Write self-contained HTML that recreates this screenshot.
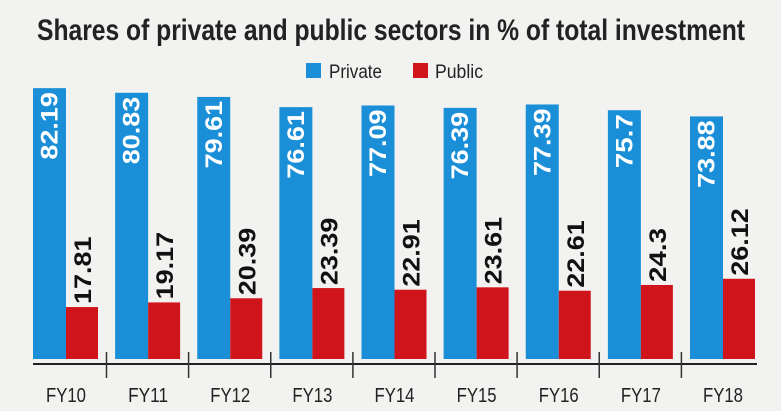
<!DOCTYPE html>
<html><head><meta charset="utf-8"><style>
html,body{margin:0;padding:0;background:#f2f2f0;}
svg{display:block;font-family:"Liberation Sans",sans-serif;}
.bt{font-size:24px;fill:#fff;font-weight:bold;}
.rt{font-size:24px;font-weight:bold;fill:#111;}
.fy{font-size:20px;fill:#222;}
</style></head><body>
<svg width="781" height="411" viewBox="0 0 781 411" xmlns="http://www.w3.org/2000/svg">
<rect width="781" height="411" fill="#f2f2f0"/>
<text x="37" y="40" font-size="30" font-weight="bold" fill="#222" textLength="708" lengthAdjust="spacingAndGlyphs">Shares of private and public sectors in % of total investment</text>
<rect x="306" y="63" width="15" height="15" fill="#1a8fd8"/>
<text x="329" y="78" font-size="19" fill="#222" textLength="53" lengthAdjust="spacingAndGlyphs">Private</text>
<rect x="413" y="63" width="15" height="15" fill="#d0141c"/>
<text x="435" y="78" font-size="19" fill="#222" textLength="48" lengthAdjust="spacingAndGlyphs">Public</text>

<g fill="#1a8fd8">
<rect x="33" y="88.15" width="33" height="270.85"/>
<rect x="115.125" y="92.78" width="33" height="266.22"/>
<rect x="197.25" y="96.93" width="33" height="262.07"/>
<rect x="279.375" y="107.13" width="33" height="251.87"/>
<rect x="361.5" y="105.49" width="33" height="253.51"/>
<rect x="443.625" y="107.87" width="33" height="251.13"/>
<rect x="525.75" y="104.47" width="33" height="254.53"/>
<rect x="607.875" y="110.22" width="33" height="248.78"/>
<rect x="690" y="116.41" width="33" height="242.59"/>
</g>
<g fill="#d0141c">
<rect x="66" y="307.05" width="32" height="51.95"/>
<rect x="148.125" y="302.42" width="32" height="56.58"/>
<rect x="230.25" y="298.27" width="32" height="60.73"/>
<rect x="312.375" y="288.07" width="32" height="70.93"/>
<rect x="394.5" y="289.71" width="32" height="69.29"/>
<rect x="476.625" y="287.33" width="32" height="71.67"/>
<rect x="558.75" y="290.73" width="32" height="68.27"/>
<rect x="640.875" y="284.98" width="32" height="74.02"/>
<rect x="723" y="278.79" width="32" height="80.21"/>
</g>

<text class="bt" transform="translate(57.5,92.15) rotate(-90)" text-anchor="end" textLength="67.5" lengthAdjust="spacingAndGlyphs">82.19</text>
<text class="bt" transform="translate(139.6,96.78) rotate(-90)" text-anchor="end" textLength="67.5" lengthAdjust="spacingAndGlyphs">80.83</text>
<text class="bt" transform="translate(221.75,100.93) rotate(-90)" text-anchor="end" textLength="67.5" lengthAdjust="spacingAndGlyphs">79.61</text>
<text class="bt" transform="translate(303.9,111.13) rotate(-90)" text-anchor="end" textLength="67.5" lengthAdjust="spacingAndGlyphs">76.61</text>
<text class="bt" transform="translate(386,109.49) rotate(-90)" text-anchor="end" textLength="67.5" lengthAdjust="spacingAndGlyphs">77.09</text>
<text class="bt" transform="translate(468.1,111.87) rotate(-90)" text-anchor="end" textLength="67.5" lengthAdjust="spacingAndGlyphs">76.39</text>
<text class="bt" transform="translate(550.25,108.47) rotate(-90)" text-anchor="end" textLength="67.5" lengthAdjust="spacingAndGlyphs">77.39</text>
<text class="bt" transform="translate(632.4,114.22) rotate(-90)" text-anchor="end" textLength="54" lengthAdjust="spacingAndGlyphs">75.7</text>
<text class="bt" transform="translate(714.5,120.41) rotate(-90)" text-anchor="end" textLength="67.5" lengthAdjust="spacingAndGlyphs">73.88</text>

<text class="rt" transform="translate(91,304.05) rotate(-90)" textLength="67.5" lengthAdjust="spacingAndGlyphs">17.81</text>
<text class="rt" transform="translate(173.1,299.42) rotate(-90)" textLength="67.5" lengthAdjust="spacingAndGlyphs">19.17</text>
<text class="rt" transform="translate(255.25,295.27) rotate(-90)" textLength="67.5" lengthAdjust="spacingAndGlyphs">20.39</text>
<text class="rt" transform="translate(337.4,285.07) rotate(-90)" textLength="67.5" lengthAdjust="spacingAndGlyphs">23.39</text>
<text class="rt" transform="translate(419.5,286.71) rotate(-90)" textLength="67.5" lengthAdjust="spacingAndGlyphs">22.91</text>
<text class="rt" transform="translate(501.6,284.33) rotate(-90)" textLength="67.5" lengthAdjust="spacingAndGlyphs">23.61</text>
<text class="rt" transform="translate(583.75,287.73) rotate(-90)" textLength="67.5" lengthAdjust="spacingAndGlyphs">22.61</text>
<text class="rt" transform="translate(665.9,281.98) rotate(-90)" textLength="54" lengthAdjust="spacingAndGlyphs">24.3</text>
<text class="rt" transform="translate(748,275.79) rotate(-90)" textLength="67.5" lengthAdjust="spacingAndGlyphs">26.12</text>

<line x1="33" y1="364" x2="757" y2="364" stroke="#222" stroke-width="2"/>
<g stroke="#333" stroke-width="1.5">
<line x1="106.5" y1="352" x2="106.5" y2="378"/>
<line x1="188.6" y1="352" x2="188.6" y2="378"/>
<line x1="270.75" y1="352" x2="270.75" y2="378"/>
<line x1="352.9" y1="352" x2="352.9" y2="378"/>
<line x1="435" y1="352" x2="435" y2="378"/>
<line x1="517.1" y1="352" x2="517.1" y2="378"/>
<line x1="599.25" y1="352" x2="599.25" y2="378"/>
<line x1="681.4" y1="352" x2="681.4" y2="378"/>
</g>
<g text-anchor="middle">
<text class="fy" x="66" y="402" textLength="40" lengthAdjust="spacingAndGlyphs">FY10</text>
<text class="fy" x="148.1" y="402" textLength="40" lengthAdjust="spacingAndGlyphs">FY11</text>
<text class="fy" x="230.25" y="402" textLength="40" lengthAdjust="spacingAndGlyphs">FY12</text>
<text class="fy" x="312.4" y="402" textLength="40" lengthAdjust="spacingAndGlyphs">FY13</text>
<text class="fy" x="394.5" y="402" textLength="40" lengthAdjust="spacingAndGlyphs">FY14</text>
<text class="fy" x="476.6" y="402" textLength="40" lengthAdjust="spacingAndGlyphs">FY15</text>
<text class="fy" x="558.75" y="402" textLength="40" lengthAdjust="spacingAndGlyphs">FY16</text>
<text class="fy" x="640.9" y="402" textLength="40" lengthAdjust="spacingAndGlyphs">FY17</text>
<text class="fy" x="723" y="402" textLength="40" lengthAdjust="spacingAndGlyphs">FY18</text>
</g>
</svg>
</body></html>
